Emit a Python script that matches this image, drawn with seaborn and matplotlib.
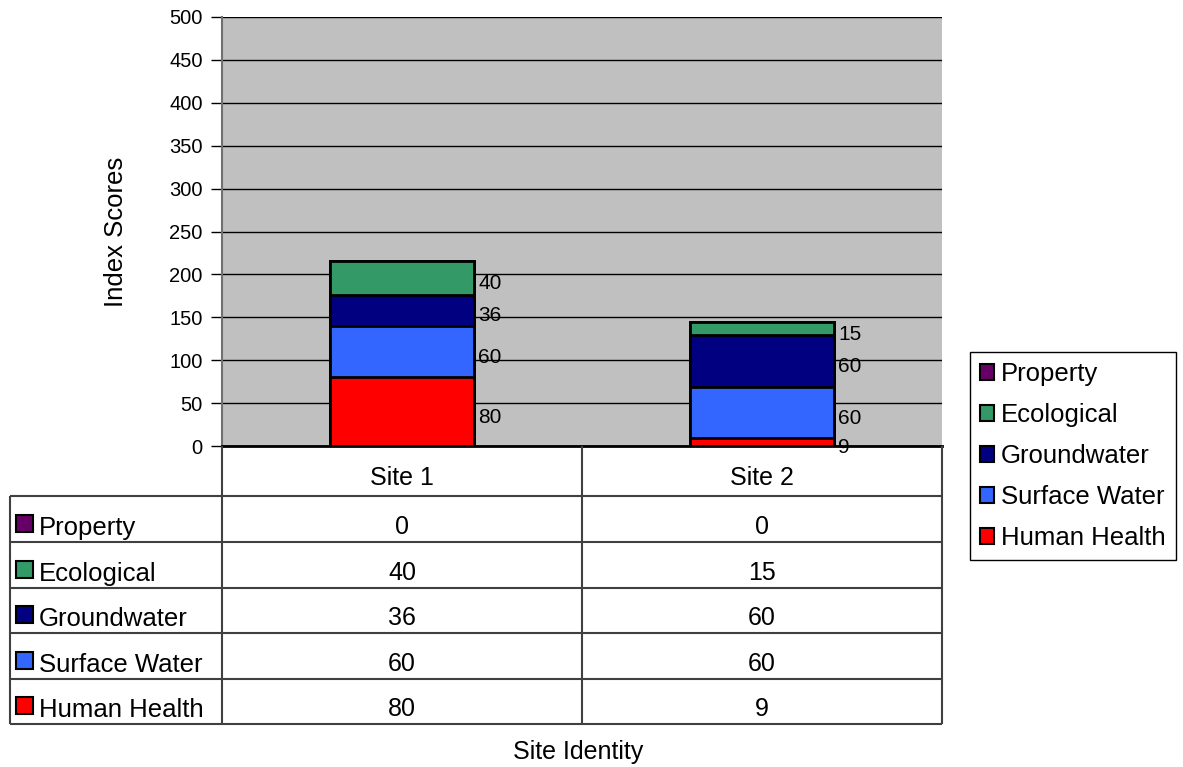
import pandas as pd
import matplotlib
matplotlib.use("Agg")
import matplotlib.pyplot as plt
import seaborn as sns
from matplotlib.patches import Patch, Rectangle

# Data
sites = ["Site 1", "Site 2"]
categories = ["Human Health", "Surface Water", "Groundwater", "Ecological", "Property"]
human_health = [80, 9]
surface_water = [60, 60]
groundwater = [36, 60]
ecological = [40, 15]
property_scores = [0, 0]
colors = ["#FF0000", "#3366FF", "#000080", "#339966", "#660066"]
yticks = list(range(0, 501, 50))

sns.set_theme(style="white")
plt.rcParams["font.family"] = ["Liberation Sans", "DejaVu Sans"]
plt.rcParams.update({"text.color": "black", "axes.labelcolor": "black",
                     "xtick.color": "black", "ytick.color": "black"})

df = pd.DataFrame({
    "site": sites,
    "Human Health": human_health,
    "Surface Water": surface_water,
    "Groundwater": groundwater,
    "Ecological": ecological,
    "Property": property_scores,
})
long = df.melt(id_vars="site", var_name="category", value_name="score")
long["category"] = pd.Categorical(long["category"], categories, ordered=True)
long = long.sort_values(["site", "category"]).reset_index(drop=True)
long["top"] = long.groupby("site")["score"].cumsum()
long["bottom"] = long["top"] - long["score"]

W, H = 1183, 767
fig = plt.figure(figsize=(W / 100, H / 100), dpi=100)
ax = fig.add_axes([222 / W, 1 - 446 / H, 720 / W, 429 / H])
ax.set_facecolor("#C0C0C0")

# stacked bars: overlay cumulative totals, tallest first
for cat, col in reversed(list(zip(categories, colors))):
    sub = long[long["category"] == cat]
    sns.barplot(data=sub, x="site", y="top", order=sites, color=col,
                saturation=1, width=0.4, edgecolor="black", linewidth=2,
                errorbar=None, ax=ax)

# value labels right of each segment
for _, row in long.iterrows():
    if row["score"] <= 0:
        continue
    xpos = sites.index(row["site"])
    ax.annotate(str(row["score"]), xy=(xpos + 0.2, (row["bottom"] + row["top"]) / 2),
                xytext=(3, -4), textcoords="offset points",
                ha="left", va="center", fontsize=15)

ax.set_ylim(0, 500)
ax.set_xlim(-0.5, 1.5)
ax.set_yticks(yticks)
ax.set_yticklabels([str(t) for t in yticks])
ax.yaxis.grid(True, color="black", lw=1)
ax.set_axisbelow(True)
ax.tick_params(axis="y", left=True, length=8, width=1, color="black",
               labelsize=14.5, pad=6)
ax.tick_params(axis="x", bottom=False, labelbottom=False)
ax.set_xlabel("")
ax.set_ylabel("Index Scores", fontsize=18.5)
ax.yaxis.set_label_coords(-0.131, 0.5)
for s in ["top", "right"]:
    ax.spines[s].set_visible(False)
ax.spines["left"].set_color("#707070")
ax.spines["left"].set_linewidth(1.5)
ax.spines["bottom"].set_color("black")
ax.spines["bottom"].set_linewidth(2)

# data table under the plot
tab = fig.add_axes([0, 0, 1, 1], facecolor="none")
tab.set_xlim(0, W)
tab.set_ylim(H, 0)
tab.axis("off")
col_edges = [10, 222, 582, 942]
row_edges = [446, 496, 542, 588, 633, 679, 724]
lk = dict(color="#404040", lw=1.5, solid_capstyle="butt")
for y in row_edges[1:]:
    tab.plot([col_edges[0], col_edges[-1]], [y, y], **lk)
tab.plot([col_edges[0]] * 2, [row_edges[1], row_edges[-1]], **lk)
for x in col_edges[1:]:
    tab.plot([x, x], [row_edges[0], row_edges[-1]], **lk)

col_centers = [(col_edges[i] + col_edges[i + 1]) / 2 for i in (1, 2)]
for cx, site in zip(col_centers, sites):
    tab.text(cx, 478, site, ha="center", va="center", fontsize=18)

table_rows = list(reversed(list(zip(categories, colors))))
for r, (cat, col) in enumerate(table_rows):
    yb = row_edges[r + 2]
    tab.add_patch(Rectangle((16, yb - 27), 17, 17, facecolor=col,
                            edgecolor="black", lw=1.5))
    tab.text(39, yb - 7, cat, ha="left", va="baseline", fontsize=18.5)
    vals = df[cat].tolist()
    for cx, v in zip(col_centers, vals):
        tab.text(cx, yb - 8, str(v), ha="center", va="baseline", fontsize=18)

# legend
handles = [Patch(facecolor=col, edgecolor="black", lw=1.5) for _, col in table_rows]
labels = [cat for cat, _ in table_rows]
leg = fig.legend(handles, labels, loc="upper left",
                 bbox_to_anchor=(970 / W, 1 - 352 / H), frameon=True,
                 fancybox=False, edgecolor="black", framealpha=1,
                 fontsize=18.5, handlelength=0.55, handleheight=0.55,
                 handletextpad=0.25, labelspacing=0.66, borderpad=0.4,
                 borderaxespad=0)
leg.get_frame().set_linewidth(1)

fig.text(578 / W, 1 - 752 / H, "Site Identity", ha="center", va="center",
         fontsize=18)

fig.savefig("out.png", dpi=100)
